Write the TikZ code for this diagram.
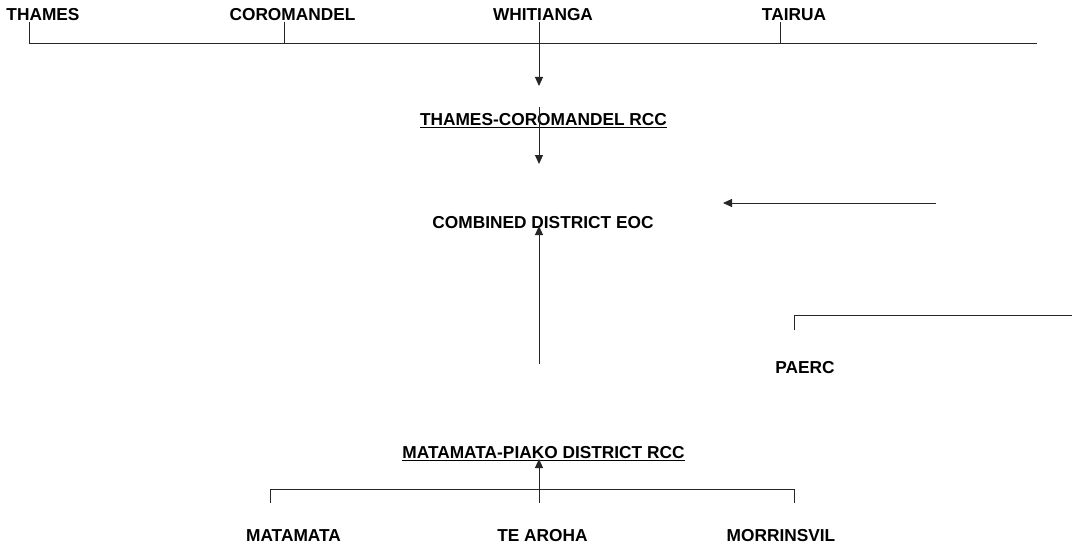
\documentclass[tikz,border=0pt]{standalone}
\usepackage{fontspec}
\setmainfont{Liberation Sans}
\usetikzlibrary{arrows.meta}
\begin{document}
\begin{tikzpicture}[x=1pt,y=-1pt,
  lbl/.style={inner sep=0pt,anchor=base,font=\bfseries\fontsize{17.3}{20}\selectfont},
  conn/.style={draw=black!85,line width=1pt},
  arr/.style={conn,-{Triangle[length=9pt,width=8pt]}},
  uline/.style={draw=black,line width=1.2pt}]
\useasboundingbox (0,0) rectangle (1072,551);
% top row
\node[lbl] (thames) at (43,21) {THAMES};
\node[lbl] (coro) at (292.5,21) {COROMANDEL};
\node[lbl] (whit) at (543,21) {WHITIANGA};
\node[lbl] (tair) at (794,21) {TAIRUA};
\coordinate (busL) at (29,44);
\coordinate (busR) at (1037,44);
\coordinate (t1) at (29,22); \coordinate (b1) at (29,44);
\coordinate (t2) at (284,22); \coordinate (b2) at (284,44);
\coordinate (t3) at (539,22);
\coordinate (t4) at (780,22); \coordinate (b4) at (780,44);
\draw[conn] (busL) -- (busR);
\draw[conn] (t1) -- (b1);
\draw[conn] (t2) -- (b2);
\draw[conn] (t4) -- (b4);
\coordinate (a1e) at (539,86);
\draw[arr] (t3) -- (a1e);
% Thames-Coromandel RCC
\node[lbl] (tcrcc) at (543.5,125) {THAMES-COROMANDEL RCC};
\draw[uline] ([yshift=-2.5pt]tcrcc.base west) -- ([yshift=-2.5pt]tcrcc.base east);
\coordinate (a2s) at (539,107);
\coordinate (a2e) at (539,164);
\draw[arr] (a2s) -- (a2e);
% Combined EOC
\node[lbl] (eoc) at (543,228) {COMBINED DISTRICT EOC};
\coordinate (a3s) at (936,203);
\coordinate (a3e) at (723,203);
\draw[arr] (a3s) -- (a3e);
\coordinate (a4s) at (539,364);
\coordinate (a4e) at (539,226);
\draw[arr] (a4s) -- (a4e);
% PAERC
\node[lbl] (paerc) at (805,373) {PAERC};
\coordinate (p1) at (794,330);
\coordinate (p2) at (794,315.5);
\coordinate (p3) at (1072,315.5);
\draw[conn] (p1) -- (p2) -- (p3);
% Matamata-Piako
\node[lbl] (mprcc) at (543.5,458) {MATAMATA-PIAKO DISTRICT RCC};
\draw[uline] ([yshift=-2.5pt]mprcc.base west) -- ([yshift=-2.5pt]mprcc.base east);
\node[lbl] (mata) at (293.5,541) {MATAMATA};
\node[lbl] (tearoha) at (542.5,541) {TE AROHA};
\node[lbl] (morr) at (781,541) {MORRINSVIL};
\coordinate (q1) at (270,503);
\coordinate (q2) at (270,489);
\coordinate (q3) at (794,489);
\coordinate (q4) at (794,503);
\coordinate (q5) at (539,489);
\coordinate (q6) at (539,503);
\coordinate (a5e) at (539,459);
\draw[conn] (q1) -- (q2) -- (q3) -- (q4);
\draw[conn] (q5) -- (q6);
\draw[arr] (q5) -- (a5e);
\end{tikzpicture}
\end{document}
